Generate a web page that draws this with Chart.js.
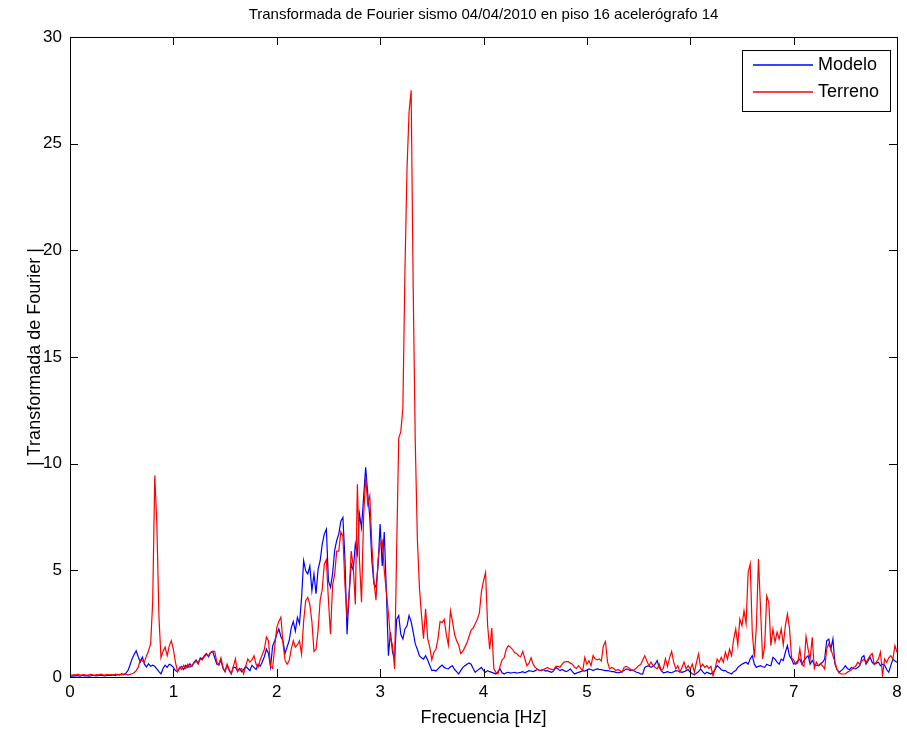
<!DOCTYPE html>
<html>
<head>
<meta charset="utf-8">
<script src="https://cdn.jsdelivr.net/npm/chart.js@4.4.0/dist/chart.umd.min.js"></script>
<style>
  html, body { margin: 0; padding: 0; background: #ffffff; }
  #wrap { width: 907px; height: 733px; position: relative; }
</style>
</head>
<body>
<div id="wrap"><canvas id="c" width="907" height="733"></canvas></div>
<script>
// Frequency resolution of both spectra (Hz)
const STEP = 0.02;

// |FFT| of the model response, one value per frequency bin (0 .. 8 Hz)
const modelo = [
  0.03,0.05,0.04,0.06,0.05,0.04,0.07,0.05,0.06,0.04,0.05,0.08,0.06,0.05,0.07,0.09,0.06,0.05,0.08,0.07,
  0.08,0.10,0.07,0.12,0.09,0.15,0.10,0.18,0.30,0.55,0.85,1.05,1.23,0.95,0.70,0.93,0.60,0.47,0.62,0.50,
  0.55,0.50,0.38,0.25,0.15,0.40,0.55,0.45,0.60,0.55,0.45,0.30,0.25,0.42,0.50,0.35,0.55,0.45,0.62,0.50,
  0.70,0.80,0.65,0.90,0.85,1.00,1.10,0.95,1.15,1.20,0.90,0.60,0.55,0.80,0.40,0.25,0.55,0.30,0.15,0.45,
  0.45,0.30,0.40,0.25,0.35,0.50,0.40,0.30,0.55,0.45,0.35,0.60,0.50,0.70,0.95,1.30,1.10,0.47,1.45,1.70,
  2.00,2.25,1.90,1.70,1.10,1.40,1.70,2.30,2.60,2.15,2.80,2.50,3.70,5.45,4.98,4.83,5.20,4.05,4.83,3.90,
  5.06,5.45,6.23,6.70,6.93,4.50,4.20,4.83,5.92,6.40,6.70,7.30,7.48,5.50,2.00,3.90,5.30,5.00,6.23,5.76,
  7.64,7.00,8.40,9.83,8.60,7.50,5.45,4.36,4.20,5.20,7.17,5.20,6.80,4.10,1.00,2.10,1.16,0.84,2.70,2.88,
  2.00,1.78,2.25,2.40,2.88,2.60,2.10,1.55,1.30,1.00,0.90,0.84,1.00,0.80,0.55,0.30,0.32,0.28,0.38,0.48,
  0.56,0.45,0.40,0.38,0.48,0.53,0.35,0.25,0.14,0.30,0.45,0.53,0.60,0.66,0.60,0.40,0.22,0.30,0.38,0.45,
  0.30,0.22,0.30,0.25,0.22,0.18,0.14,0.25,0.38,0.20,0.14,0.20,0.22,0.18,0.20,0.22,0.18,0.20,0.22,0.25,
  0.20,0.25,0.30,0.28,0.25,0.30,0.35,0.32,0.30,0.35,0.28,0.30,0.25,0.22,0.30,0.45,0.38,0.30,0.35,0.30,
  0.25,0.30,0.38,0.25,0.14,0.18,0.22,0.25,0.30,0.28,0.32,0.38,0.35,0.30,0.35,0.38,0.36,0.35,0.32,0.30,
  0.30,0.28,0.25,0.25,0.22,0.20,0.22,0.25,0.30,0.38,0.35,0.30,0.32,0.28,0.22,0.20,0.15,0.14,0.45,0.50,
  0.53,0.45,0.50,0.60,0.77,0.45,0.30,0.20,0.22,0.25,0.22,0.20,0.25,0.30,0.28,0.25,0.22,0.25,0.30,0.35,
  0.22,0.15,0.10,0.18,0.25,0.38,0.25,0.14,0.22,0.18,0.14,0.22,0.35,0.53,0.45,0.34,0.30,0.30,0.22,0.19,
  0.14,0.25,0.30,0.45,0.53,0.60,0.65,0.69,0.60,0.85,1.00,0.60,0.45,0.50,0.53,0.48,0.45,0.60,0.55,0.53,
  0.92,0.84,0.70,0.60,0.84,0.77,1.16,1.47,1.00,0.84,0.60,0.65,0.75,0.84,0.60,0.77,0.90,1.00,0.60,0.77,
  0.60,0.55,0.53,0.62,0.69,0.84,1.70,1.78,1.31,1.78,0.60,0.35,0.22,0.30,0.38,0.53,0.40,0.34,0.45,0.40,
  0.38,0.45,0.53,0.92,1.00,0.60,0.75,0.92,0.69,0.60,0.65,0.69,0.53,0.60,0.55,0.35,0.22,0.53,0.84,0.75,
  0.69
];

// |FFT| of the recorded ground motion, same bins
const terreno = [
  0.10,0.09,0.11,0.10,0.12,0.09,0.10,0.11,0.08,0.10,0.12,0.10,0.09,0.11,0.10,0.13,0.10,0.09,0.12,0.10,
  0.11,0.09,0.13,0.10,0.12,0.10,0.14,0.12,0.10,0.12,0.15,0.20,0.30,0.45,0.80,0.75,0.70,1.00,1.23,1.55,
  3.50,9.44,7.20,2.87,0.90,1.20,1.40,1.00,1.45,1.70,1.30,0.70,0.25,0.45,0.35,0.55,0.40,0.60,0.45,0.55,
  0.65,0.75,0.60,0.85,0.80,0.95,1.05,1.00,1.15,1.20,1.20,0.70,0.60,0.90,0.45,0.25,0.60,0.35,0.15,0.50,
  0.85,0.25,0.35,0.40,0.15,0.50,0.85,0.70,0.80,1.00,0.60,0.45,0.80,1.05,1.30,1.87,1.70,0.50,0.40,1.40,
  2.30,2.60,2.80,1.60,0.80,0.60,0.76,1.30,1.70,1.40,1.50,1.70,1.07,2.60,3.58,3.73,3.40,2.60,1.20,1.30,
  2.20,3.60,4.10,5.30,5.50,3.60,2.00,4.30,4.80,5.90,5.90,6.80,6.60,4.30,2.80,3.80,5.90,5.20,3.40,9.04,
  5.50,3.50,7.50,9.36,8.10,8.50,6.20,4.50,3.60,5.50,6.20,6.40,5.00,4.00,3.00,1.80,1.50,0.38,6.00,11.20,
  11.50,12.60,19.00,23.80,26.50,27.50,18.20,11.00,6.50,4.20,2.90,1.80,3.20,1.80,1.40,0.80,1.16,1.30,1.80,2.60,
  2.56,2.70,2.00,1.50,3.10,2.60,2.00,1.70,1.50,1.10,1.20,1.40,1.60,1.90,2.20,2.30,2.50,2.70,3.00,4.00,
  4.50,4.90,2.40,1.30,2.30,0.38,0.22,0.15,0.50,0.80,0.90,1.30,1.47,1.40,1.30,1.15,1.10,1.00,0.95,1.20,
  0.85,0.53,0.65,0.90,0.60,0.45,0.38,0.30,0.32,0.35,0.40,0.45,0.38,0.36,0.35,0.50,0.50,0.45,0.60,0.70,
  0.72,0.72,0.65,0.60,0.45,0.40,0.53,0.40,0.30,0.92,0.60,0.77,0.53,1.00,0.85,0.80,0.85,0.75,1.47,1.66,
  0.70,0.38,0.45,0.40,0.30,0.35,0.30,0.22,0.45,0.50,0.45,0.38,0.30,0.35,0.42,0.53,0.58,0.80,1.00,0.75,
  0.53,0.70,0.55,0.45,0.38,0.60,0.30,0.40,0.85,0.50,0.90,1.20,0.70,0.38,0.53,0.22,0.45,0.70,0.38,0.53,
  0.38,0.60,0.22,0.69,1.08,0.45,0.60,0.45,0.53,0.40,0.50,0.06,0.38,0.84,0.69,0.92,0.69,1.16,0.84,1.31,
  1.00,1.78,2.25,1.50,2.72,2.40,3.10,2.50,4.90,5.30,2.10,0.90,2.40,5.53,3.19,0.84,1.47,3.80,3.50,1.47,
  2.25,1.63,2.10,1.78,2.25,1.50,2.40,2.95,2.30,0.90,0.80,0.60,0.65,1.31,0.60,0.50,1.90,1.31,0.84,1.86,
  0.40,0.69,0.53,0.60,0.53,0.38,1.31,1.55,1.31,1.00,0.70,0.35,0.19,0.15,0.14,0.14,0.22,0.28,0.34,0.45,
  0.50,0.69,0.60,0.75,0.84,0.69,0.84,1.00,1.10,0.60,0.70,0.84,1.16,0.06,0.84,0.69,0.90,1.00,0.84,1.47,
  1.16
];

// Frequency of each bin (Hz)
const frecuencias = modelo.map((_, i) => +(i * STEP).toFixed(2));

// Series names and colours
const seriesNames = ['Modelo', 'Terreno'];
const seriesColors = ['#0000ff', '#ff0000'];

// Axis tick values
const xTicks = [0, 1, 2, 3, 4, 5, 6, 7, 8];
const yTicks = [0, 5, 10, 15, 20, 25, 30];

const FONT = 'Liberation Sans, Arial, sans-serif';
const TICK_LEN = 8;
const TITLE = 'Transformada de Fourier sismo 04/04/2010 en piso 16 acelerógrafo 14';

const toPoints = (ys) => frecuencias.map((f, i) => ({ x: f, y: ys[i] }));

// Axes box with inward ticks on all four sides, the title over the axes and the boxed legend
const matlabAxes = {
  id: 'matlabAxes',
  afterDraw(chart) {
    const { ctx, chartArea: a, scales: { x, y } } = chart;
    ctx.save();
    ctx.strokeStyle = '#000000';
    ctx.lineWidth = 1;
    ctx.strokeRect(a.left + 0.5, a.top + 0.5, a.right - a.left, a.bottom - a.top);

    ctx.beginPath();
    xTicks.forEach(v => {
      const p = Math.round(x.getPixelForValue(v)) + 0.5;
      ctx.moveTo(p, a.bottom); ctx.lineTo(p, a.bottom - TICK_LEN);
      ctx.moveTo(p, a.top); ctx.lineTo(p, a.top + TICK_LEN);
    });
    yTicks.forEach(v => {
      const p = Math.round(y.getPixelForValue(v)) + 0.5;
      ctx.moveTo(a.left, p); ctx.lineTo(a.left + TICK_LEN, p);
      ctx.moveTo(a.right, p); ctx.lineTo(a.right - TICK_LEN, p);
    });
    ctx.stroke();

    // title centred over the axes
    ctx.fillStyle = '#000000';
    ctx.font = '15px ' + FONT;
    ctx.textAlign = 'center';
    ctx.textBaseline = 'middle';
    ctx.fillText(TITLE, (a.left + a.right) / 2, 15);

    // legend box in the upper-right corner
    const bw = 148, bh = 61;
    const bx = a.right - 7 - bw, by = a.top + 13;
    ctx.fillStyle = '#ffffff';
    ctx.fillRect(bx, by, bw, bh);
    ctx.strokeStyle = '#000000';
    ctx.lineWidth = 1;
    ctx.strokeRect(bx + 0.5, by + 0.5, bw, bh);
    seriesNames.forEach((name, i) => {
      const ly = by + 15 + i * 27;
      ctx.strokeStyle = seriesColors[i];
      ctx.lineWidth = 1.5;
      ctx.beginPath();
      ctx.moveTo(bx + 11, ly); ctx.lineTo(bx + 71, ly);
      ctx.stroke();
      ctx.fillStyle = '#000000';
      ctx.font = '18px ' + FONT;
      ctx.textAlign = 'left';
      ctx.fillText(name, bx + 76, ly);
    });
    ctx.restore();
  }
};

new Chart(document.getElementById('c'), {
  type: 'line',
  data: {
    datasets: [
      { label: seriesNames[0], data: toPoints(modelo), borderColor: seriesColors[0], borderWidth: 1.2, pointRadius: 0, tension: 0, order: 1 },
      { label: seriesNames[1], data: toPoints(terreno), borderColor: seriesColors[1], borderWidth: 1.2, pointRadius: 0, tension: 0, order: 0 }
    ]
  },
  options: {
    responsive: false,
    animation: false,
    devicePixelRatio: 1,
    layout: { padding: { top: 37, right: 10, left: 0, bottom: 0 } },
    plugins: { legend: { display: false }, title: { display: false }, tooltip: { enabled: false } },
    scales: {
      x: {
        type: 'linear', min: 0, max: 8,
        afterBuildTicks: (s) => { s.ticks = xTicks.map(v => ({ value: v })); },
        afterFit: (s) => { s.height = 56; },
        grid: { display: false, drawTicks: false },
        border: { display: false },
        ticks: { padding: 5, color: '#000000', font: { family: FONT, size: 17 }, maxRotation: 0, autoSkip: false },
        title: { display: true, text: 'Frecuencia [Hz]', color: '#000000', font: { family: FONT, size: 18 }, padding: { top: 0, bottom: 4 } }
      },
      y: {
        type: 'linear', min: 0, max: 30,
        afterBuildTicks: (s) => { s.ticks = yTicks.map(v => ({ value: v })); },
        afterFit: (s) => { s.width = 70; },
        grid: { display: false, drawTicks: false },
        border: { display: false },
        ticks: { padding: 8, color: '#000000', font: { family: FONT, size: 17 }, autoSkip: false },
        title: { display: true, text: '| Transformada de Fourier |', color: '#000000', font: { family: FONT, size: 18 }, padding: { top: 24, bottom: 0 } }
      }
    }
  },
  plugins: [matlabAxes]
});
</script>
</body>
</html>
